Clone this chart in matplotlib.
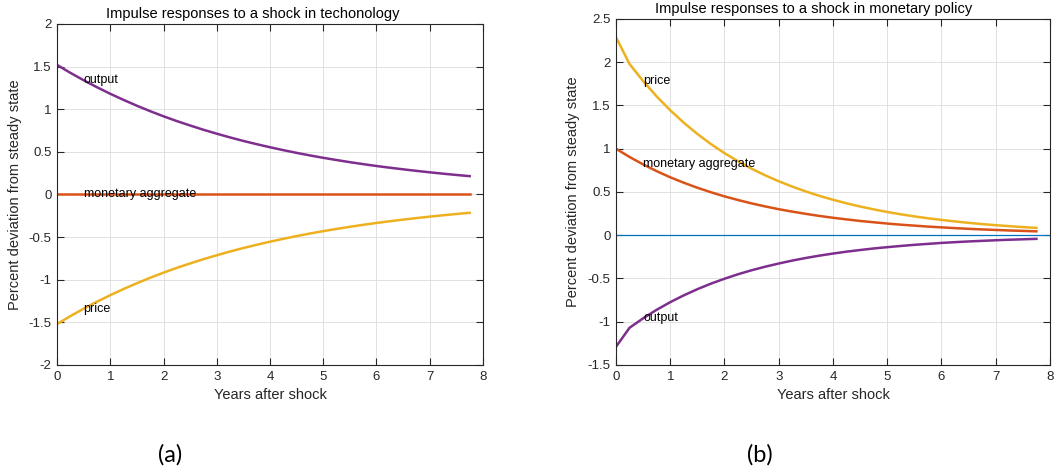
import numpy as np
import matplotlib.pyplot as plt

# quarterly horizon, in years after the shock
years = np.arange(32) * 0.25

# technology shock responses
tech_output = [1.520, 1.427, 1.340, 1.258, 1.181, 1.109, 1.041, 0.977,
               0.917, 0.861, 0.809, 0.759, 0.713, 0.669, 0.628, 0.590,
               0.554, 0.520, 0.488, 0.458, 0.430, 0.404, 0.379, 0.356,
               0.334, 0.314, 0.295, 0.277, 0.260, 0.244, 0.229, 0.215]
tech_money = [0.0] * 32
tech_price = [-v for v in tech_output]

# monetary policy shock responses
mon_price = [2.29, 1.98, 1.783, 1.605, 1.445, 1.301, 1.171, 1.054,
             0.949, 0.855, 0.769, 0.693, 0.624, 0.562, 0.506, 0.455,
             0.410, 0.369, 0.332, 0.299, 0.269, 0.242, 0.218, 0.196,
             0.177, 0.159, 0.143, 0.129, 0.116, 0.105, 0.094, 0.085]
mon_money = [1.000, 0.905, 0.819, 0.741, 0.670, 0.607, 0.549, 0.497,
             0.449, 0.407, 0.368, 0.333, 0.301, 0.273, 0.247, 0.223,
             0.202, 0.183, 0.165, 0.150, 0.135, 0.122, 0.111, 0.100,
             0.091, 0.082, 0.074, 0.067, 0.061, 0.055, 0.050, 0.045]
mon_output = [-1.29, -1.07, -0.961, -0.862, -0.774, -0.695, -0.624, -0.560,
              -0.503, -0.451, -0.405, -0.364, -0.327, -0.293, -0.263, -0.236,
              -0.212, -0.190, -0.171, -0.153, -0.138, -0.124, -0.111, -0.100,
              -0.089, -0.080, -0.072, -0.065, -0.058, -0.052, -0.047, -0.042]

left_yticks = np.arange(-2, 2.01, 0.5)
right_yticks = np.arange(-1.5, 2.51, 0.5)
xticks = np.arange(0, 9, 1)

c_out = "#7E2F8E"
c_mon = "#D95319"
c_pri = "#EDB120"
c_zero = "#0072BD"
ink = "#262626"

plt.rcParams["font.family"] = ["Liberation Sans", "DejaVu Sans"]

fig = plt.figure(figsize=(10.58, 4.71), dpi=100)
ax1 = fig.add_axes([0.0539, 0.2251, 0.4026, 0.7240])
ax2 = fig.add_axes([0.5822, 0.2251, 0.4102, 0.7346])


def style(ax, yticks):
    ax.set_xlim(0, 8)
    ax.set_ylim(yticks[0], yticks[-1])
    ax.set_xticks(xticks)
    ax.set_yticks(yticks)
    ax.set_yticklabels([f"{v:g}" for v in yticks])
    ax.grid(True, color="#dcdcdc", linewidth=0.6)
    ax.set_axisbelow(True)
    ax.tick_params(direction="in", length=5, width=0.8, colors=ink,
                   labelsize=9.5, top=True, right=True, pad=4)
    for s in ax.spines.values():
        s.set_color(ink)
        s.set_linewidth(0.8)
    ax.set_xlabel("Years after shock", fontsize=10.5, color=ink, labelpad=4)
    ax.set_ylabel("Percent deviation from steady state", fontsize=10.5,
                  color=ink, labelpad=5)


# (a) technology shock
style(ax1, left_yticks)
ax1.plot(years, tech_output, color=c_out, lw=1.8)
ax1.plot(years, tech_money, color=c_mon, lw=1.8)
ax1.plot(years, tech_price, color=c_pri, lw=1.8)
ax1.text(0.5, tech_output[2], "output", fontsize=9, va="center")
ax1.text(0.5, tech_money[2], "monetary aggregate", fontsize=9, va="center")
ax1.text(0.5, tech_price[2], "price", fontsize=9, va="center")
ax1.set_title("Impulse responses to a shock in techonology", fontsize=10.5,
              color="black", pad=4, x=0.46)

# (b) monetary policy shock
style(ax2, right_yticks)
ax2.axhline(0, color=c_zero, lw=0.9)
ax2.plot(years, mon_price, color=c_pri, lw=1.8)
ax2.plot(years, mon_money, color=c_mon, lw=1.8)
ax2.plot(years, mon_output, color=c_out, lw=1.8)
ax2.text(0.5, mon_price[2], "price", fontsize=9, va="center")
ax2.text(0.5, mon_money[2], "monetary aggregate", fontsize=9, va="center")
ax2.text(0.5, mon_output[2], "output", fontsize=9, va="center")
ax2.set_title("Impulse responses to a shock in monetary policy", fontsize=10.5,
              color="black", pad=4, x=0.455)

fig.text(170 / 1058, 1 - 455 / 471, "(a)", fontsize=17, family=["Lato", "DejaVu Sans"],
         ha="center", va="center")
fig.text(760 / 1058, 1 - 455 / 471, "(b)", fontsize=17, family=["Lato", "DejaVu Sans"],
         ha="center", va="center")

fig.savefig("out.png", dpi=100)
